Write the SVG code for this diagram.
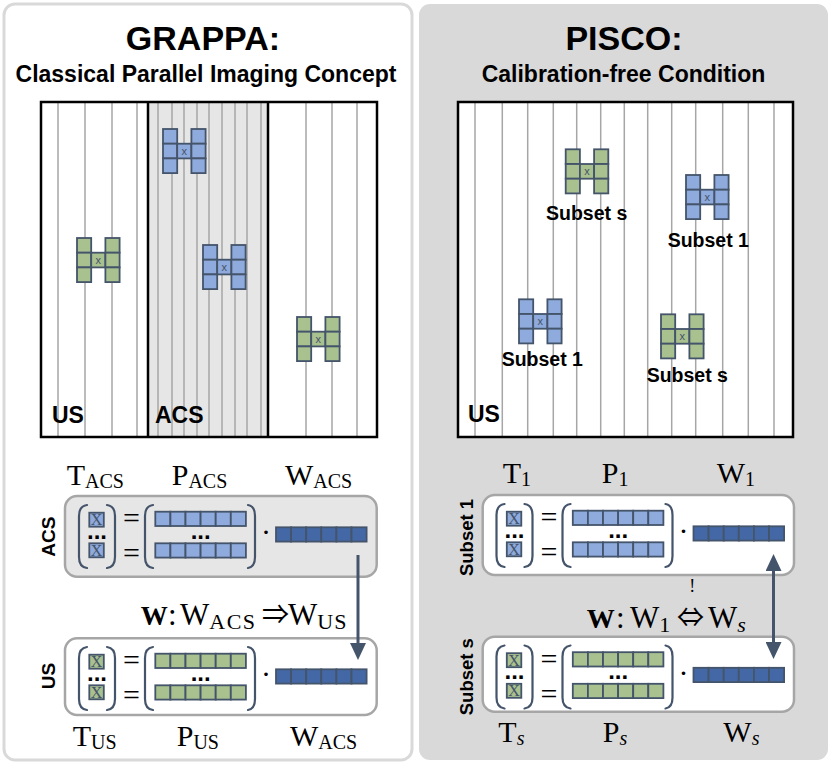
<svg xmlns="http://www.w3.org/2000/svg" xmlns:xlink="http://www.w3.org/1999/xlink" width="831" height="766" viewBox="0 0 831 766">
<style>
.sans{font-family:"Liberation Sans",Arial,sans-serif;font-weight:bold;fill:#000}
.serif{font-family:"Liberation Serif","Times New Roman",serif;fill:#000}
.m{font-size:30px}
.sb{font-size:20px}
.it{font-style:italic}
.ar{font-family:"Noto Sans CJK JP","DejaVu Sans",sans-serif;font-size:27px}
.gl{stroke:#a6a6a6;stroke-width:1.5}
.bk{stroke:#000;stroke-width:2.5;fill:none}
.cell{stroke:#44546a;stroke-width:1.8}
.blue{fill:#8faadc}
.green{fill:#a9c08f}
.dark{fill:#4468a6}
.par{fill:none;stroke:#44546a;stroke-width:2.2;stroke-linecap:round}
.xs{font-family:"Liberation Sans",Arial,sans-serif;font-size:11px;fill:#44546a;text-anchor:middle}
.xb{font-family:"Liberation Serif",serif;font-size:16px;fill:#44546a;text-anchor:middle}
.eq{font-family:"Liberation Serif",serif;font-size:30px;fill:#000;text-anchor:middle}
.dots{font-family:"Liberation Sans",Arial,sans-serif;font-weight:bold;font-size:24px;fill:#000;text-anchor:middle}
.box{stroke:#a6a6a6;stroke-width:2.5}
.arr{stroke:#44546a;stroke-width:3;fill:none}
</style>
<defs>
<marker id="ah" markerUnits="userSpaceOnUse" markerWidth="17" markerHeight="16" viewBox="0 0 17 16" refX="2" refY="8" orient="auto-start-reverse">
<path d="M0,0 L17,8 L0,16 Z" fill="#44546a"/>
</marker>
<g id="H">
<rect class="cell" x="0" y="0" width="14.2" height="14.7"/>
<rect class="cell" x="0" y="14.7" width="14.2" height="14.7"/>
<rect class="cell" x="0" y="29.4" width="14.2" height="14.7"/>
<rect class="cell" x="14.2" y="14.7" width="14.2" height="14.7"/>
<rect class="cell" x="28.4" y="0" width="14.2" height="14.7"/>
<rect class="cell" x="28.4" y="14.7" width="14.2" height="14.7"/>
<rect class="cell" x="28.4" y="29.4" width="14.2" height="14.7"/>
<text class="xs" x="21.3" y="26">x</text>
</g>
<g id="row">
<rect class="cell" x="0" y="0" width="15.1" height="14.3"/>
<rect class="cell" x="15.1" y="0" width="15.1" height="14.3"/>
<rect class="cell" x="30.2" y="0" width="15.1" height="14.3"/>
<rect class="cell" x="45.3" y="0" width="15.1" height="14.3"/>
<rect class="cell" x="60.4" y="0" width="15.1" height="14.3"/>
<rect class="cell" x="75.5" y="0" width="15.1" height="14.3"/>
</g>
<g id="eq">
<path class="par" d="M22,9 Q14,10 14,20 L14,61 Q14,71 22,72"/>
<path class="par" d="M42,9 Q50,10 50,20 L50,61 Q50,71 42,72"/>
<rect class="cell" x="24.3" y="16.7" width="14.5" height="14"/>
<rect class="cell" x="24.3" y="47.3" width="14.5" height="14"/>
<text class="xb" x="31.5" y="29.3">X</text>
<text class="xb" x="31.5" y="59.8">X</text>
<text class="dots" x="32" y="42.5">...</text>
<text class="eq" x="66.5" y="32">=</text>
<text class="eq" x="66.5" y="67">=</text>
<path class="par" d="M88,9 Q80,10 80,20 L80,61 Q80,71 88,72"/>
<path class="par" d="M183,9 Q190,10 190,20 L190,61 Q190,71 183,72"/>
<use xlink:href="#row" x="90.3" y="15.7"/>
<use xlink:href="#row" x="90.3" y="47.3"/>
<text class="dots" x="135.7" y="42.5">...</text>
<text class="eq" x="201" y="46" font-size="26">·</text>
<g class="dark"><use xlink:href="#row" x="211" y="31.3"/></g>
</g>
</defs>

<g id="panel-grappa">
<rect x="4" y="4" width="408" height="756" rx="11" fill="#fff" stroke="#d9d9d9" stroke-width="3"/>
<text class="sans" x="203" y="50" font-size="34" text-anchor="middle">GRAPPA:</text>
<text class="sans" x="206" y="82" font-size="23" text-anchor="middle">Classical Parallel Imaging Concept</text>
</g>
<g id="panel-pisco">
<rect x="419" y="4" width="409" height="756" rx="11" fill="#d9d9d9"/>
<text class="sans" x="624" y="50" font-size="34" text-anchor="middle">PISCO:</text>
<text class="sans" x="623.5" y="82" font-size="23" text-anchor="middle">Calibration-free Condition</text>
</g>

<g id="grid-grappa">
<rect x="41" y="102" width="336" height="335" fill="#fff"/>
<rect x="148" y="102" width="120" height="335" fill="#e6e6e6"/>
<g class="gl">
<line x1="58" y1="102" x2="58" y2="437"/><line x1="85" y1="102" x2="85" y2="437"/><line x1="112" y1="102" x2="112" y2="437"/><line x1="137" y1="102" x2="137" y2="437"/>
<line x1="158" y1="102" x2="158" y2="437"/><line x1="172" y1="102" x2="172" y2="437"/><line x1="184" y1="102" x2="184" y2="437"/><line x1="197" y1="102" x2="197" y2="437"/><line x1="209" y1="102" x2="209" y2="437"/><line x1="222" y1="102" x2="222" y2="437"/><line x1="235" y1="102" x2="235" y2="437"/><line x1="247" y1="102" x2="247" y2="437"/><line x1="261" y1="102" x2="261" y2="437"/>
<line x1="306" y1="102" x2="306" y2="437"/><line x1="332" y1="102" x2="332" y2="437"/><line x1="357" y1="102" x2="357" y2="437"/>
</g>
<rect class="bk" x="41" y="102" width="336" height="335"/>
<line class="bk" x1="148" y1="102" x2="148" y2="437"/>
<line class="bk" x1="268" y1="102" x2="268" y2="437"/>
<text class="sans" x="52" y="423" font-size="23">US</text>
<text class="sans" x="155" y="423" font-size="23">ACS</text>
</g>
<g id="kernel-us-left" class="green"><use xlink:href="#H" x="77" y="238"/></g>
<g id="kernel-acs-1" class="blue"><use xlink:href="#H" x="163" y="129"/></g>
<g id="kernel-acs-2" class="blue"><use xlink:href="#H" x="203" y="245"/></g>
<g id="kernel-us-right" class="green"><use xlink:href="#H" x="297" y="317"/></g>

<g id="grid-pisco">
<rect x="458" y="102" width="335" height="335" fill="#fff"/>
<g class="gl">
<line x1="475" y1="102" x2="475" y2="437"/><line x1="502.3" y1="102" x2="502.3" y2="437"/><line x1="527.7" y1="102" x2="527.7" y2="437"/><line x1="553.3" y1="102" x2="553.3" y2="437"/><line x1="576.7" y1="102" x2="576.7" y2="437"/><line x1="600.7" y1="102" x2="600.7" y2="437"/><line x1="624.3" y1="102" x2="624.3" y2="437"/><line x1="647.7" y1="102" x2="647.7" y2="437"/><line x1="671.7" y1="102" x2="671.7" y2="437"/><line x1="695.7" y1="102" x2="695.7" y2="437"/><line x1="722.7" y1="102" x2="722.7" y2="437"/><line x1="748.3" y1="102" x2="748.3" y2="437"/><line x1="774" y1="102" x2="774" y2="437"/>
</g>
<rect class="bk" x="458" y="102" width="335" height="335"/>
<text class="sans" x="468" y="422" font-size="23">US</text>
</g>
<g id="subset-s-top"><g class="green"><use xlink:href="#H" x="565.7" y="149.3"/></g><text class="sans" x="546" y="220" font-size="19.5">Subset s</text></g>
<g id="subset-1-top"><g class="blue"><use xlink:href="#H" x="686" y="175"/></g><text class="sans" x="667.7" y="246.7" font-size="19.5">Subset 1</text></g>
<g id="subset-1-bottom"><g class="blue"><use xlink:href="#H" x="519" y="299.3"/></g><text class="sans" x="501.7" y="365.7" font-size="19.5">Subset 1</text></g>
<g id="subset-s-bottom"><g class="green"><use xlink:href="#H" x="661" y="314.3"/></g><text class="sans" x="646.7" y="382.3" font-size="19.5">Subset s</text></g>

<g id="eq-acs">
<text class="serif m" x="66.7" y="485">T<tspan class="sb" dy="3">ACS</tspan></text>
<text class="serif m" x="171.7" y="485">P<tspan class="sb" dy="3">ACS</tspan></text>
<text class="serif m" x="285" y="485">W<tspan class="sb" dy="3">ACS</tspan></text>
<rect class="box" x="65" y="496" width="311.7" height="80.7" rx="12" fill="#e7e6e6"/>
<text class="sans" font-size="19" text-anchor="middle" transform="translate(55,536.7) rotate(-90)">ACS</text>
<g class="blue"><use xlink:href="#eq" x="65" y="496"/></g>
</g>
<g id="eq-us">
<rect class="box" x="65" y="638.3" width="311.7" height="76.7" rx="12" fill="#fff"/>
<text class="sans" font-size="19" text-anchor="middle" transform="translate(55,676) rotate(-90)">US</text>
<g class="green"><use xlink:href="#eq" x="65" y="638"/></g>
<text class="serif m" x="72.7" y="746">T<tspan class="sb" dy="3">US</tspan></text>
<text class="serif m" x="176.7" y="746">P<tspan class="sb" dy="3">US</tspan></text>
<text class="serif m" x="290" y="746">W<tspan class="sb" dy="3">ACS</tspan></text>
</g>
<text id="rel-grappa" class="serif" font-size="31" x="140.7" y="625"><tspan font-weight="bold" font-size="27">W</tspan><tspan x="168">:</tspan><tspan x="180">W</tspan><tspan font-size="22" letter-spacing="1.5" dy="4">ACS</tspan><tspan class="ar" x="262" dy="-5">⇒</tspan><tspan x="288" dy="1">W</tspan><tspan font-size="22" letter-spacing="1" dy="4">US</tspan></text>

<g id="eq-subset1">
<text class="serif m" x="502.7" y="483.3">T<tspan class="sb" dy="3">1</tspan></text>
<text class="serif m" x="601.7" y="483.3">P<tspan class="sb" dy="3">1</tspan></text>
<text class="serif m" x="716.7" y="483.3">W<tspan class="sb" dy="3">1</tspan></text>
<rect class="box" x="482.7" y="495" width="311.3" height="80" rx="12" fill="#fff"/>
<text class="sans" font-size="18.5" text-anchor="middle" transform="translate(473,537.5) rotate(-90)">Subset 1</text>
<g class="blue"><use xlink:href="#eq" x="482.5" y="495"/></g>
</g>
<g id="eq-subsets">
<rect class="box" x="482.7" y="636.7" width="311.3" height="75" rx="12" fill="#fff"/>
<text class="sans" font-size="18.5" text-anchor="middle" transform="translate(473,676.7) rotate(-90)">Subset s</text>
<g class="green"><use xlink:href="#eq" x="482.5" y="636.5"/></g>
<text class="serif m" x="498.3" y="741.7">T<tspan class="sb it" dy="3">s</tspan></text>
<text class="serif m" x="602.7" y="741.7">P<tspan class="sb it" dy="3">s</tspan></text>
<text class="serif m" x="723.3" y="741.7">W<tspan class="sb it" dy="3">s</tspan></text>
</g>
<text id="rel-pisco" class="serif" font-size="31" x="586.7" y="628.3"><tspan font-weight="bold" font-size="28">W</tspan><tspan x="616">:</tspan><tspan x="630">W</tspan><tspan font-size="22" dy="4">1</tspan><tspan class="ar" x="677" dy="-5">⇔</tspan><tspan x="708" dy="1">W</tspan><tspan font-size="22" font-style="italic" dy="4">s</tspan></text>
<text class="serif" x="692.3" y="592" font-size="18" text-anchor="middle">!</text>

<g id="connectors">
<line class="arr" x1="358" y1="555" x2="358" y2="645" marker-end="url(#ah)"/>
<line class="arr" x1="773.5" y1="569" x2="773.5" y2="644" marker-start="url(#ah)" marker-end="url(#ah)"/>
</g>
</svg>
